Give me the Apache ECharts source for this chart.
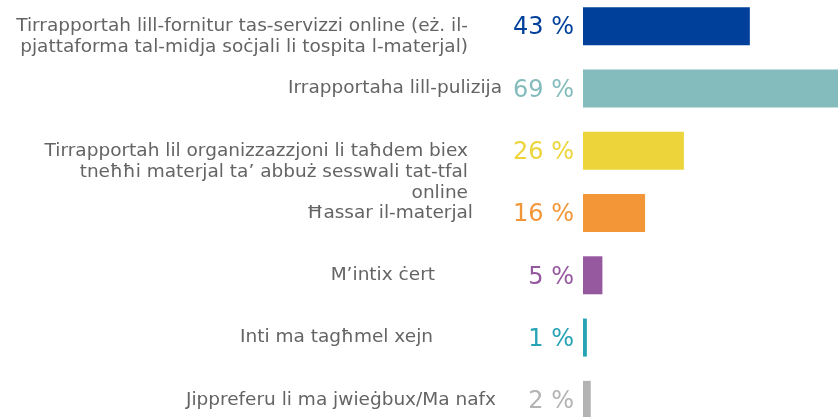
<!DOCTYPE html>
<html>
<head>
<meta charset="utf-8">
<script src="https://cdn.jsdelivr.net/npm/echarts@6/dist/echarts.min.js"></script>
<style>
html, body { margin: 0; padding: 0; background: #fff; }
#chart { width: 838px; height: 417px; }
</style>
</head>
<body>
<div id="chart"></div>
<script>
const categories = [
    'Tirrapportah lill-fornitur tas-servizzi online (eż. il-\npjattaforma tal-midja soċjali li tospita l-materjal)',
    'Irrapportaha lill-pulizija',
    'Tirrapportah lil organizzazzjoni li taħdem biex\ntneħħi materjal ta’ abbuż sesswali tat-tfal\nonline',
    'Ħassar il-materjal',
    'M’intix ċert',
    'Inti ma tagħmel xejn',
    'Jippreferu li ma jwieġbux/Ma nafx'
];
const values = [43, 69, 26, 16, 5, 1, 2];
const colors = ['#00409A', '#84BBBC', '#EDD43A', '#F29638', '#9659A0', '#27A3B5', '#B3B3B3'];

// right padding per label, the labels in the original do not share one right edge
const labelPad = [34, 0, 34, 29, 67, 69, 6];

const font = '"DejaVu Sans", Verdana, sans-serif';

function init() {
    const option = {
        backgroundColor: '#fff',
        animation: false,
        grid: {
            left: 583,
            top: -5,
            width: 388,
            height: 436,
            outerBoundsMode: 'none'
        },
        xAxis: {
            type: 'value',
            min: 0,
            max: 100,
            show: false
        },
        yAxis: {
            type: 'category',
            inverse: true,
            data: categories.map((c, i) => ({
                value: c,
                textStyle: { padding: [0, labelPad[i], 0, 0] }
            })),
            axisLine: { show: false },
            axisTick: { show: false },
            splitLine: { show: false },
            axisLabel: {
                margin: 81,
                color: '#646464',
                fontFamily: font,
                fontSize: 18.5,
                lineHeight: 21,
                align: 'right',
                verticalAlign: 'middle',
                // first line sits on the bar centre, extra lines hang below
                formatter: function (v) {
                    const n = v.split('\n').length;
                    return '\n'.repeat(n - 1) + v;
                }
            }
        },
        series: [
            {
                type: 'bar',
                barWidth: 38,
                data: values.map((v, i) => ({
                    value: v,
                    itemStyle: { color: colors[i] },
                    label: { color: colors[i] }
                })),
                label: {
                    show: true,
                    position: 'left',
                    distance: 9,
                    offset: [0, 2],
                    fontFamily: font,
                    fontSize: 24,
                    formatter: '{c} %'
                }
            }
        ]
    };
    const mychart = echarts.init(document.getElementById('chart'));
    mychart.setOption(option);
}
init();
</script>
</body>
</html>
